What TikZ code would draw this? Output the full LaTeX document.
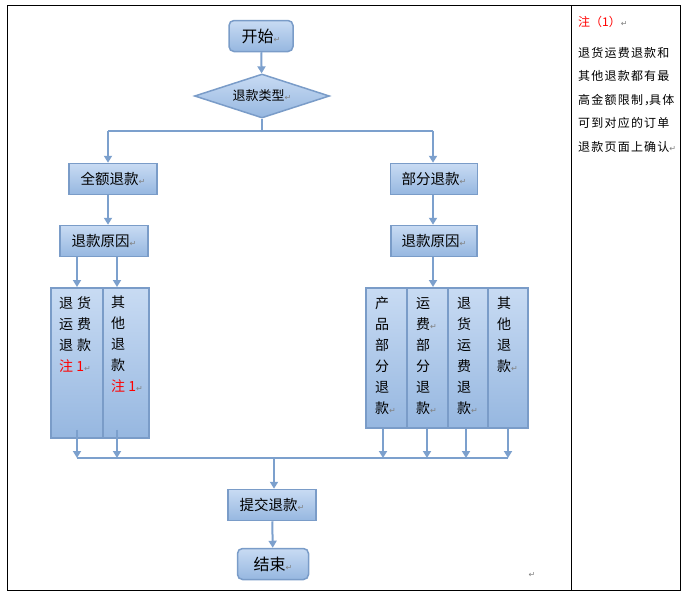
\documentclass[tikz,border=0pt]{standalone}
\usepackage{fontspec}
\setmainfont{Noto Sans CJK SC}
\newfontfamily\symfont{DejaVu Sans}
\newfontfamily\notefont[LetterSpace=10]{Noto Sans CJK SC}
\usetikzlibrary{arrows.meta,shapes.geometric}
\definecolor{boxtop}{RGB}{200,219,243}
\definecolor{boxbot}{RGB}{150,183,224}
\definecolor{boxline}{RGB}{122,156,200}
\definecolor{flowline}{RGB}{124,160,205}
\definecolor{notered}{RGB}{255,0,0}
\newcommand{\enterm}{{\symfont\color{gray}\fontsize{8}{8}\selectfont ↵}}
\def\busy{458}

\begin{document}
\begin{tikzpicture}[x=1pt,y=-1pt,
  flowbox/.style={draw=boxline,line width=1.5pt,top color=boxtop,bottom color=boxbot,minimum height=31pt,inner sep=0pt,font=\fontsize{14.5}{15}\selectfont},
  endbox/.style={flowbox,rounded corners=5pt,font=\fontsize{16}{17}\selectfont},
  tallbox/.style={draw=boxline,line width=1.5pt,top color=boxtop,bottom color=boxbot,inner sep=0pt,anchor=north west},
  talltext/.style={anchor=north west,inner sep=0pt,align=left,font=\fontsize{14}{21}\selectfont},
  flow/.style={draw=flowline,line width=2pt},
  flowarrow/.style={flow,-{Triangle[width=8pt,length=7pt]}}
]
\useasboundingbox (0,0) rectangle (683,595);

\draw[line width=1pt] (7,5) rectangle (680,590);
\draw[line width=1pt] (571,5) -- (571,590);

\node[endbox,minimum width=64pt] (start) at (261,36) {开始\enterm};
\node[draw=boxline,line width=1.5pt,top color=boxtop,bottom color=boxbot,shape=diamond,minimum width=135pt,minimum height=44pt,aspect=3,inner sep=0pt,font=\fontsize{13}{13}\selectfont] (type) at (262,96) {退款类型\enterm};
\node[flowbox,minimum width=88pt] (full) at (113,179) {全额退款\enterm};
\node[flowbox,minimum width=87pt] (part) at (434,179) {部分退款\enterm};
\node[flowbox,minimum width=88pt] (fullwhy) at (104,241) {退款原因\enterm};
\node[flowbox,minimum width=86pt] (partwhy) at (434,241) {退款原因\enterm};
\node[flowbox,minimum width=88pt] (submit) at (272,505) {提交退款\enterm};
\node[endbox,minimum width=71pt] (finish) at (273,564) {结束\enterm};

\node[tallbox,minimum width=52pt,minimum height=150pt] (fa) at (50,287) {};
\node[tallbox,minimum width=46pt,minimum height=150pt] (fb) at (102,287) {};
\node[talltext] (fatext) at (59,296) {退\hspace{4pt}货\\运\hspace{4pt}费\\退\hspace{4pt}款\\\textcolor{notered}{注 1}\enterm};
\node[talltext] (fbtext) at (111,296) {其\\他\\退\\款\\\textcolor{notered}{注 1}\enterm};

\foreach \i/\x/\w/\t in {1/365/41/{产\\品\\部\\分\\退\\款\enterm},
                         2/406/41/{运\\费\enterm\\部\\分\\退\\款\enterm},
                         3/447/40/{退\\货\\运\\费\\退\\款\enterm},
                         4/487/40/{其\\他\\退\\款\enterm}}{
  \node[tallbox,minimum width=\w pt,minimum height=140pt] (pa\i) at (\x,287) {};
  \node[talltext] (pa\i text) at (\x+10,297) {\t};
}

\coordinate (split) at (262,131);
\coordinate (splitl) at (108,131);
\coordinate (splitr) at (433,131);
\coordinate (busl) at (77,\busy);
\coordinate (busb) at (117,\busy);
\coordinate (busm) at (274,\busy);
\coordinate (bus1) at (383,\busy);
\coordinate (bus2) at (427,\busy);
\coordinate (bus3) at (466,\busy);
\coordinate (bus4) at (508,\busy);

\draw[flowarrow] (start) -- (type);
\draw[flow] (type.south) -- (split);
\draw[flow] (splitl) -- (splitr);
\draw[flowarrow] (splitl) -- (full.north -| splitl);
\draw[flowarrow] (splitr) -- (part.north -| splitr);
\draw[flowarrow] (full.south -| splitl) -- (fullwhy.north -| splitl);
\draw[flowarrow] (part.south -| splitr) -- (partwhy.north -| splitr);
\draw[flowarrow] (fullwhy.south -| busl) -- (fa.north -| busl);
\draw[flowarrow] (fullwhy.south -| busb) -- (fb.north -| busb);
\draw[flowarrow] (partwhy.south -| splitr) -- (pa2.north -| splitr);
\draw[flowarrow] ([yshift=9pt]fa.south -| busl) -- (busl);
\draw[flowarrow] ([yshift=9pt]fb.south -| busb) -- (busb);
\foreach \i in {1,...,4}{
  \draw[flowarrow] (pa\i.south -| bus\i) -- (bus\i);
}
\draw[flow] (busl) -- (bus4);
\draw[flowarrow] (busm) -- (submit.north -| busm);
\draw[flowarrow] (submit) -- (finish);

\node[anchor=north west,inner sep=0pt,text=notered,font=\fontsize{12}{12}\selectfont] (notehead) at (578,16) {注（1）\enterm};
\node[anchor=north west,inner sep=0pt,align=left,font=\notefont\fontsize{12}{23.5}\selectfont] (notebody) at (578,47) {退货运费退款和\\其他退款都有最\\高金额限制，\kern-7pt具体\\可到对应的订单\\退款页面上确认\enterm};
\node[inner sep=0pt] (endmark) at (532,575) {\enterm};
\end{tikzpicture}
\end{document}
